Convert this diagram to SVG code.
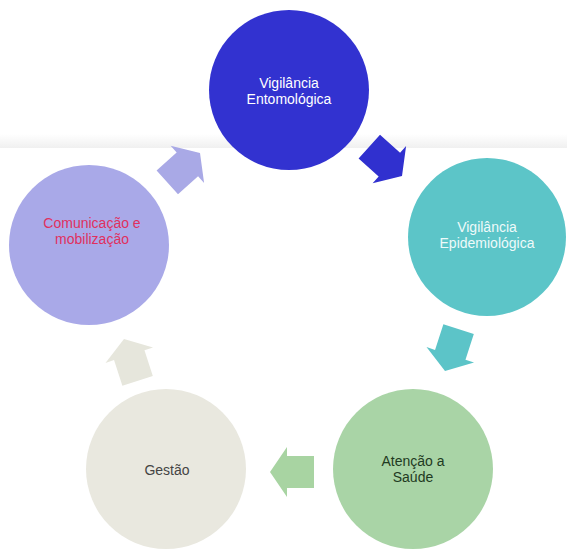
<svg xmlns="http://www.w3.org/2000/svg" width="567" height="550" viewBox="0 0 567 550">
<style>
  text { font-family: "Liberation Sans", Arial, sans-serif; font-size: 14px; text-anchor: middle; }
  .t-blue { fill: #ffffff; }
  .t-teal { fill: #eefafa; }
  .t-green { fill: #1f3a22; }
  .t-gray { fill: #444444; }
  .t-lav { fill: #e0305e; }
</style>
<defs>
  <linearGradient id="band" x1="0" y1="0" x2="0" y2="1">
    <stop offset="0" stop-color="#ffffff"/>
    <stop offset="1" stop-color="#f0f0f0"/>
  </linearGradient>
  <path id="blockArrow" d="M0,0 L-17,-25 L-17,-16 L-44,-16 L-44,16 L-17,16 L-17,25 Z"/>
</defs>
<rect width="567" height="550" fill="#ffffff"/>
<rect x="0" y="134" width="567" height="14" fill="url(#band)"/>

<g id="connectors">
  <use href="#blockArrow" fill="#a9a9e6" transform="translate(200,153) rotate(-42)"/>
  <use href="#blockArrow" fill="#3030cf" transform="translate(402,176) rotate(42)"/>
  <use href="#blockArrow" fill="#5cc4c8" transform="translate(445,371) rotate(108)"/>
  <use href="#blockArrow" fill="#a8d4a2" transform="translate(270,472) rotate(180)"/>
  <use href="#blockArrow" fill="#e6e6dc" transform="translate(124,339) rotate(-108)"/>
</g>

<g id="node-entomologica">
  <circle cx="289" cy="90" r="80" fill="#3232d0"/>
  <text class="t-blue" x="289" y="88">Vigilância</text>
  <text class="t-blue" x="289" y="104">Entomológica</text>
</g>
<g id="node-epidemiologica">
  <circle cx="487" cy="237" r="79" fill="#5cc5c8"/>
  <text class="t-teal" x="487" y="232">Vigilância</text>
  <text class="t-teal" x="487" y="248">Epidemiológica</text>
</g>
<g id="node-atencao">
  <circle cx="413" cy="469" r="80" fill="#a9d4a6"/>
  <text class="t-green" x="413" y="466">Atenção a</text>
  <text class="t-green" x="413" y="482">Saúde</text>
</g>
<g id="node-gestao">
  <circle cx="166" cy="469" r="80" fill="#e9e8df"/>
  <text class="t-gray" x="167" y="475">Gestão</text>
</g>
<g id="node-comunicacao">
  <circle cx="89" cy="245" r="80" fill="#a9a9e8"/>
  <text class="t-lav" x="92" y="228">Comunicação e</text>
  <text class="t-lav" x="92" y="244">mobilização</text>
</g>
</svg>
